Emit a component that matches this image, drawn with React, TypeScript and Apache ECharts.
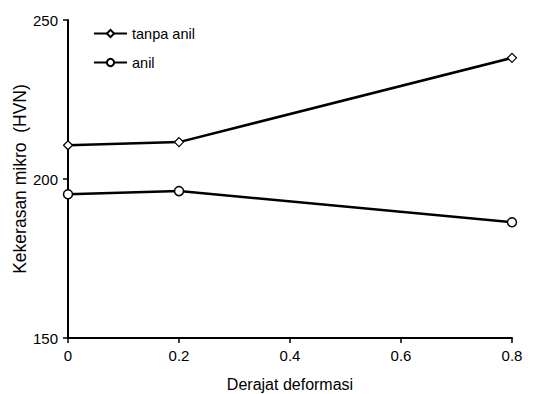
import React, { useEffect, useRef } from "react";
import * as echarts from "echarts";

const xValues = [0, 0.2, 0.8];
const tanpaAnil = [210.6, 211.6, 238.1];
const anil = [195.2, 196.2, 186.4];
const seriesNames = ["tanpa anil", "anil"];

export default function App() {
  const ref = useRef<HTMLDivElement>(null);
  useEffect(() => {
    const chart = echarts.init(ref.current!, null, { renderer: "svg" });
    const font = "Liberation Sans, Arial, sans-serif";
    chart.setOption({
      animation: false,
      backgroundColor: "#fff",
      textStyle: { fontFamily: font },
      grid: { left: 68, right: 39, top: 20, bottom: 56, containLabel: false, outerBoundsMode: "none" },
      legend: {
        orient: "vertical",
        left: 93,
        top: 26,
        padding: 0,
        itemWidth: 33,
        itemHeight: 9,
        itemGap: 14,
        textStyle: { fontFamily: font, fontSize: 14.5, color: "#000" },
        data: seriesNames,
      },
      xAxis: {
        type: "value",
        min: 0,
        max: 0.8,
        interval: 0.2,
        name: "Derajat deformasi",
        nameLocation: "middle",
        nameGap: 38,
        nameMoveOverlap: false,
        nameTextStyle: { fontFamily: font, fontSize: 16, color: "#000" },
        axisLine: { show: true, lineStyle: { color: "#000", width: 2 } },
        axisTick: { show: true, length: 5, lineStyle: { color: "#000", width: 1.5 } },
        axisLabel: { fontFamily: font, fontSize: 15, color: "#000", margin: 10, formatter: (v: number) => String(v) },
        splitLine: { show: false },
      },
      yAxis: {
        type: "value",
        min: 150,
        max: 250,
        interval: 50,
        name: "Kekerasan mikro  (HVN)",
        nameLocation: "middle",
        nameGap: 39,
        nameMoveOverlap: false,
        nameTextStyle: { fontFamily: font, fontSize: 17.5, color: "#000" },
        axisLine: { show: true, lineStyle: { color: "#000", width: 2 } },
        axisTick: { show: true, length: 5, lineStyle: { color: "#000", width: 1.5 } },
        axisLabel: { fontFamily: font, fontSize: 15, color: "#000", margin: 10 },
        splitLine: { show: false },
      },
      series: [
        {
          name: seriesNames[0],
          type: "line",
          data: xValues.map((x, i) => [x, tanpaAnil[i]]),
          symbol: "diamond",
          symbolSize: 9,
          showAllSymbol: true,
          lineStyle: { color: "#000", width: 2.5 },
          itemStyle: { color: "#fff", borderColor: "#000", borderWidth: 1.2 },
        },
        {
          name: seriesNames[1],
          type: "line",
          data: xValues.map((x, i) => [x, anil[i]]),
          symbol: "circle",
          symbolSize: 9,
          showAllSymbol: true,
          lineStyle: { color: "#000", width: 2.5 },
          itemStyle: { color: "#fff", borderColor: "#000", borderWidth: 1.5 },
        },
      ],
    });
    return () => chart.dispose();
  }, []);
  return <div ref={ref} style={{ width: 551, height: 394, position: "absolute", left: 0, top: 0 }} />;
}
